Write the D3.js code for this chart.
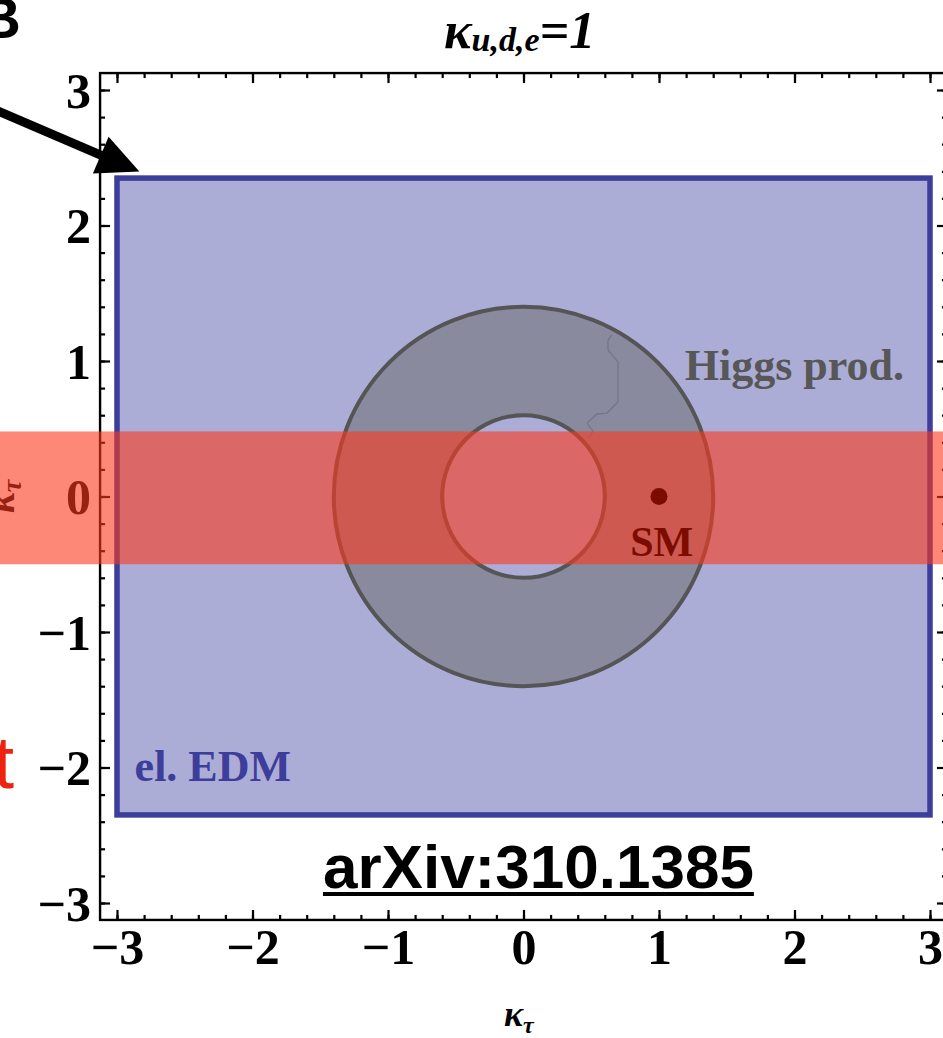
<!DOCTYPE html>
<html>
<head>
<meta charset="utf-8">
<script src="https://cdn.jsdelivr.net/npm/d3@7"></script>
<style>
  html, body { margin: 0; padding: 0; background: #fff; overflow: hidden; }
  svg { display: block; }
</style>
</head>
<body>
<svg id="chart" width="943" height="1038"></svg>
<script>
// Axis range and ticks
const xDomain = [-3, 3];
const yDomain = [-3, 3];
const framePad = 0.125;
const majorTicks = [-3, -2, -1, 0, 1, 2, 3];
const majorTickLabels = ["\u22123", "\u22122", "\u22121", "0", "1", "2", "3"];
const minorTicks = d3.range(-3, 3.001, 0.2).map(v => +v.toFixed(2));

// Electron EDM allowed region (rectangle in kappa_tau / kappa~_tau plane)
const edmX = [-3, 3];
const edmY = [-2.35, 2.35];

// Higgs production allowed annulus
const higgsCenter = [0, 0];
const higgsRadii = [0.6, 1.4];
// numerical contour seam inside the annulus
const seamX = [0.653, 0.624, 0.624, 0.697, 0.697, 0.616, 0.542, 0.469, 0.513, 0.483];
const seamY = [1.192, 1.155, 1.081, 0.993, 0.697, 0.616, 0.609, 0.542, 0.483, 0.432];

// Standard Model point
const smPoint = [1, 0];

// Highlighted band in kappa~_tau
const bandY = [-0.5, 0.48];

// Annotation arrow (data coordinates)
const arrowFrom = [-3.95, 2.875];
const arrowTo = [-2.835, 2.398];

const svg = d3.select("#chart");
const x = d3.scaleLinear().domain(xDomain).range([117, 930]);
const y = d3.scaleLinear().domain(yDomain).range([903, 90]);

const fx0 = x(xDomain[0] - framePad), fx1 = x(xDomain[1] + framePad);
const fy0 = y(yDomain[1] + framePad), fy1 = y(yDomain[0] - framePad);

const serif = "'Liberation Serif', 'Times New Roman', serif";
const sans = "'Liberation Sans', Helvetica, Arial, sans-serif";

// --- EDM rectangle ---
svg.append("rect")
  .attr("x", x(edmX[0])).attr("y", y(edmY[1]))
  .attr("width", x(edmX[1]) - x(edmX[0]))
  .attr("height", y(edmY[0]) - y(edmY[1]))
  .attr("fill", "#acadd6")
  .attr("stroke", "#3d3d9b")
  .attr("stroke-width", 5.5);

// --- Higgs production annulus ---
const ring = svg.append("g")
  .attr("transform", `translate(${x(higgsCenter[0])},${y(higgsCenter[1])})`);
const pxPerUnit = x(1) - x(0);
ring.append("path")
  .attr("d", d3.arc()({
    innerRadius: higgsRadii[0] * pxPerUnit,
    outerRadius: higgsRadii[1] * pxPerUnit,
    startAngle: 0, endAngle: 2 * Math.PI
  }))
  .attr("fill", "#898a9e");
higgsRadii.forEach(r => {
  ring.append("circle")
    .attr("r", r * pxPerUnit)
    .attr("fill", "none")
    .attr("stroke", "#555555")
    .attr("stroke-width", 4);
});
svg.append("path")
  .attr("d", d3.line()(seamX.map((v, i) => [x(v), y(seamY[i])])))
  .attr("fill", "none")
  .attr("stroke", "#737589")
  .attr("stroke-width", 1.3);

// --- Region labels ---
svg.append("text")
  .attr("x", x(1.19)).attr("y", y(0.86))
  .attr("font-family", serif).attr("font-weight", "bold")
  .attr("font-size", 44).attr("fill", "#575757")
  .text("Higgs prod.");
svg.append("text")
  .attr("x", x(-2.87)).attr("y", y(-2.1))
  .attr("font-family", serif).attr("font-weight", "bold")
  .attr("font-size", 44).attr("fill", "#3d3d9b")
  .text("el. EDM");

// --- Frame and ticks (Mathematica style, ticks pointing inward) ---
svg.append("rect")
  .attr("x", fx0).attr("y", fy0)
  .attr("width", fx1 - fx0).attr("height", fy1 - fy0)
  .attr("fill", "none").attr("stroke", "#000").attr("stroke-width", 2.4);

function addAxis(axisFn, scale, transform, size, values, labels) {
  const ax = axisFn(scale).tickValues(values).tickSizeInner(-size).tickSizeOuter(0);
  ax.tickPadding(labels ? 9 : 0);
  ax.tickFormat(labels ? ((d, i) => labels[i]) : () => "");
  const g = svg.append("g").attr("transform", transform).call(ax);
  g.select(".domain").remove();
  g.selectAll(".tick line").attr("stroke", "#000").attr("stroke-width", 2.2);
  g.selectAll(".tick text")
    .attr("font-family", serif).attr("font-weight", "bold")
    .attr("font-size", 50).attr("fill", "#000");
  return g;
}
// bottom
addAxis(d3.axisBottom, x, `translate(0,${fy1})`, 5, minorTicks, null);
addAxis(d3.axisBottom, x, `translate(0,${fy1})`, 10, majorTicks, majorTickLabels);
// top
addAxis(d3.axisTop, x, `translate(0,${fy0})`, 5, minorTicks, null);
addAxis(d3.axisTop, x, `translate(0,${fy0})`, 10, majorTicks, null);
// left
addAxis(d3.axisLeft, y, `translate(${fx0},0)`, 5, minorTicks, null);
addAxis(d3.axisLeft, y, `translate(${fx0},0)`, 10, majorTicks, majorTickLabels)
  .selectAll(".tick text").attr("dy", "0.34em");
// right
addAxis(d3.axisRight, y, `translate(${fx1},0)`, 5, minorTicks, null);
addAxis(d3.axisRight, y, `translate(${fx1},0)`, 10, majorTicks, null);

// --- Title ---
const title = svg.append("text")
  .attr("x", 444).attr("y", 48)
  .attr("font-family", serif).attr("font-weight", "bold").attr("font-style", "italic")
  .attr("font-size", 52).attr("fill", "#000");
title.append("tspan").text("\u03ba");
title.append("tspan").attr("font-size", 34).attr("dy", 3).text("u,d,e");
title.append("tspan").attr("dy", -3).text("=1");

// --- Axis labels ---
const xl = svg.append("text")
  .attr("x", 504).attr("y", 1026)
  .attr("font-family", serif).attr("font-weight", "bold").attr("font-style", "italic")
  .attr("font-size", 36).attr("fill", "#000");
xl.append("tspan").text("\u03ba");
xl.append("tspan").attr("font-size", 24).attr("dy", 7).text("\u03c4");

const yl = svg.append("text")
  .attr("transform", `translate(14,${y(0)}) rotate(-90)`)
  .attr("text-anchor", "middle")
  .attr("font-family", serif).attr("font-weight", "bold").attr("font-style", "italic")
  .attr("font-size", 40).attr("fill", "#000");
yl.append("tspan").text("\u03ba\u0303");
yl.append("tspan").attr("font-size", 28).attr("dy", 7).text("\u03c4");

// --- Highlighted band across the plot ---
svg.append("rect")
  .attr("x", 0).attr("y", y(bandY[1]))
  .attr("width", 943).attr("height", y(bandY[0]) - y(bandY[1]))
  .attr("fill", "rgb(252,56,28)").attr("fill-opacity", 0.6);

// --- SM point ---
svg.append("circle")
  .attr("cx", x(smPoint[0])).attr("cy", y(smPoint[1]))
  .attr("r", 8.5).attr("fill", "#7d0c00");
svg.append("text")
  .attr("x", x(smPoint[0] + 0.02)).attr("y", y(smPoint[1] - 0.44))
  .attr("text-anchor", "middle")
  .attr("font-family", serif).attr("font-weight", "bold")
  .attr("font-size", 42).attr("fill", "#7d0c00")
  .text("SM");

// --- Reference ---
const ref = svg.append("text")
  .attr("x", x(-1.48)).attr("y", y(-2.89))
  .attr("font-family", sans).attr("font-weight", "bold")
  .attr("font-size", 62).attr("fill", "#000")
  .text("arXiv:310.1385");
const rb = ref.node().getBBox();
svg.append("line")
  .attr("x1", rb.x).attr("x2", rb.x + rb.width)
  .attr("y1", y(-2.89) + 6).attr("y2", y(-2.89) + 6)
  .attr("stroke", "#000").attr("stroke-width", 4);

// --- Slide annotations ---
svg.append("text")
  .attr("x", 21).attr("y", 38).attr("text-anchor", "end")
  .attr("font-family", sans).attr("font-weight", "bold")
  .attr("font-size", 58).attr("fill", "#000")
  .text("B");
svg.append("text")
  .attr("x", 14).attr("y", 788).attr("text-anchor", "end")
  .attr("font-family", sans)
  .attr("font-size", 74).attr("fill", "#ee2211")
  .text("t");

// arrow
const a0 = [x(arrowFrom[0]), y(arrowFrom[1])];
const a1 = [x(arrowTo[0]), y(arrowTo[1])];
const dx = a1[0] - a0[0], dy = a1[1] - a0[1];
const len = Math.hypot(dx, dy);
const ux = dx / len, uy = dy / len;
const headLen = 42, headHalf = 20;
const base = [a1[0] - ux * headLen, a1[1] - uy * headLen];
svg.append("line")
  .attr("x1", a0[0]).attr("y1", a0[1])
  .attr("x2", base[0] + ux * 2).attr("y2", base[1] + uy * 2)
  .attr("stroke", "#000").attr("stroke-width", 9);
svg.append("path")
  .attr("d", d3.line()([
    a1,
    [base[0] - uy * headHalf, base[1] + ux * headHalf],
    [base[0] + uy * headHalf, base[1] - ux * headHalf]
  ]) + "Z")
  .attr("fill", "#000");
</script>
</body>
</html>
